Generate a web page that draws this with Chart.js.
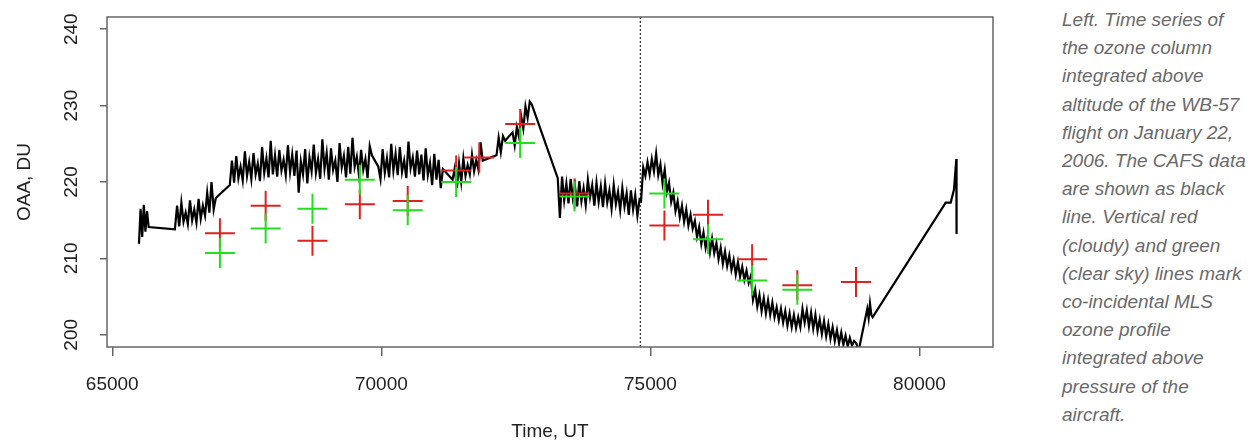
<!DOCTYPE html>
<html>
<head>
<meta charset="utf-8">
<script src="https://cdn.jsdelivr.net/npm/chart.js@4.4.1/dist/chart.umd.min.js"></script>
<style>
  html, body { margin: 0; padding: 0; background: #fff; }
  #wrap { position: absolute; left: 0; top: 0; width: 1010px; height: 441px; }
  #caption {
    position: absolute; left: 1062px; top: 6px; width: 200px;
    font: italic 19px "Liberation Sans", Arial, sans-serif;
    line-height: 28.2px; color: #6a6a6a; white-space: nowrap;
  }
</style>
</head>
<body>
<div id="wrap"><canvas id="chart"></canvas></div>
<div id="caption">Left. Time series of<br>the ozone column<br>integrated above<br>altitude of the WB-57<br>flight on January 22,<br>2006. The CAFS data<br>are shown as black<br>line. Vertical red<br>(cloudy) and green<br>(clear sky) lines mark<br>co-incidental MLS<br>ozone profile<br>integrated above<br>pressure of the<br>aircraft.</div>
<script>
// axis ticks
const xTicks = [65000, 70000, 75000, 80000];
const yTicks = [200, 210, 220, 230, 240];

// MLS coincidences, cloudy (red) and clear sky (green)
const redTimes = [67000, 67850, 68720, 69600, 70490, 71390, 71820, 72580, 73590, 75260, 76070, 76890, 77730, 78820];
const redOzone = [213.3, 216.9, 212.3, 217.1, 217.5, 221.5, 223.2, 227.6, 218.5, 214.3, 215.7, 209.9, 206.5, 206.9];
const greenTimes = [67000, 67850, 68720, 69600, 70490, 71390, 72580, 73590, 75260, 76070, 76890, 77730];
const greenOzone = [210.7, 213.9, 216.5, 220.3, 216.3, 220.0, 225.1, 218.1, 218.5, 212.5, 207.1, 205.9];

// vertical dotted marker
const markTime = 74813;

const runStart = [65496, 66164, 67184, 69944, 71324, 72140, 72438, 73278, 74826, 79030];
const runStep = [30, 40, 40, 40, 40, 40, 40, 40, 40, 25];
const runValues = [
  [211.9, 216.5, 212.8, 217.0, 213.5, 216.2, 214.1],
  [213.8, 216.9, 214.2, 217.3, 214.8, 216.0, 214.5, 217.6, 215.0, 216.4,
   214.7, 217.8, 215.2, 216.9, 215.6, 218.6, 216.0, 220.0, 216.4, 217.9],
  [219.6, 222.8, 219.9, 223.4, 220.5, 222.0, 220.2, 224.0, 220.8, 222.6,
   220.4, 223.8, 221.0, 222.4, 220.1, 224.6, 221.2, 223.1, 220.6, 225.4,
   221.0, 223.5, 220.7, 224.2, 221.5, 222.9, 220.9, 224.8, 221.3, 223.6,
   220.8, 224.1, 218.6, 222.7, 221.0, 224.3, 219.8, 223.2, 221.4, 224.9,
   221.2, 223.0, 220.4, 225.6, 221.7, 223.8, 220.3, 224.4, 221.6, 222.8,
   220.0, 225.1, 221.9, 223.4, 220.6, 224.6, 221.1, 225.8, 222.0, 223.3,
   220.9, 224.2, 221.6, 223.0, 220.5, 224.7, 223.5],
  [222.0, 220.4, 224.3, 221.2, 223.1, 220.6, 225.0, 221.5, 223.7, 220.9,
   224.6, 221.3, 222.8, 220.5, 225.3, 221.8, 223.2, 220.7, 224.1, 221.0,
   223.6, 220.2, 224.4, 220.9, 222.5, 219.6, 223.7, 220.3, 222.9, 219.2, 221.7],
  [220.3, 221.8, 219.2, 222.4, 220.0, 223.1, 220.8, 222.2, 221.0, 223.6,
   221.4, 222.9, 221.6, 225.2, 222.8],
  [223.5, 225.8, 223.9, 226.0, 225.4],
  [226.5, 224.8, 227.2, 225.9, 228.6, 227.0, 229.9, 228.4, 230.5, 230.1],
  [220.5, 215.3, 220.7, 217.6, 219.8, 217.2, 220.4, 217.9, 219.5, 216.8,
   220.1, 217.5, 219.2, 217.0, 220.3, 218.0, 219.6, 216.9, 219.9, 217.4,
   219.4, 216.7, 219.8, 217.3, 218.9, 216.5, 219.6, 217.1, 218.7, 216.3,
   219.2, 216.8, 218.5, 215.7, 218.9, 216.4, 218.3, 215.6, 217.7],
  [217.5, 221.9, 220.8, 222.6, 221.0, 223.0, 221.4, 223.7, 220.9, 222.3,
   219.8, 221.6, 218.7, 219.9, 217.4, 218.6, 216.2, 217.5, 215.4, 216.9,
   214.8, 216.4, 214.3, 215.7, 213.9, 214.9, 212.8, 214.1, 211.9, 213.4,
   211.4, 212.9, 210.8, 212.6, 210.7, 212.0, 209.9, 211.4, 209.3, 210.9,
   209.0, 210.4, 208.5, 209.8, 207.9, 209.5, 207.6, 208.9, 207.2, 208.4,
   206.8, 207.7, 204.6, 205.9, 203.7, 205.2, 203.1, 204.8, 202.8, 204.5,
   202.6, 204.2, 202.3, 203.6, 201.9, 203.4, 201.6, 203.1, 201.2, 202.8,
   201.0, 202.6, 200.9, 202.3, 201.0, 203.4, 201.6, 203.2, 201.1, 202.9,
   200.8, 202.6, 200.5, 202.0, 200.1, 201.8, 199.8, 201.4, 199.5, 201.0,
   199.2, 200.6, 198.9, 200.3, 198.7, 199.9, 198.5, 199.6, 198.6, 199.2,
   198.9, 197.8],
  [203.4, 202.2, 204.1, 202.6, 202.3]
];
const tailTimes = [80487, 80580, 80641, 80684, 80686, 80688, 80690, 80692];
const tailValues = [217.3, 217.3, 219.0, 223.0, 213.2, 220.3, 216.8, 219.2];

const cafs = [];
runValues.forEach((vals, r) => {
  vals.forEach((v, i) => cafs.push({ x: runStart[r] + i * runStep[r], y: v }));
});
tailTimes.forEach((t, i) => cafs.push({ x: t, y: tailValues[i] }));

const toPts = (xs, ys) => xs.map((t, i) => ({ x: t, y: ys[i] }));

const yMin = 198.4, yMax = 241.6;
const FONT = '"Liberation Sans", Arial, sans-serif';
Chart.defaults.font.family = FONT;

// R-style box, rotated y labels and axis titles
const rPlot = {
  id: 'rPlot',
  afterDraw(chart) {
    const { ctx, chartArea: a, scales: { y } } = chart;
    ctx.save();
    ctx.strokeStyle = '#666';
    ctx.lineWidth = 1.5;
    ctx.strokeRect(a.left, a.top, a.right - a.left, a.bottom - a.top);
    ctx.fillStyle = '#222';
    ctx.font = '19px ' + FONT;
    ctx.textAlign = 'center';
    ctx.textBaseline = 'middle';
    yTicks.forEach(v => {
      ctx.save();
      ctx.translate(72, y.getPixelForValue(v));
      ctx.rotate(-Math.PI / 2);
      ctx.fillText(String(v), 0, 0);
      ctx.restore();
    });
    ctx.save();
    ctx.translate(25, (a.top + a.bottom) / 2);
    ctx.rotate(-Math.PI / 2);
    ctx.fillText('OAA, DU', 0, 0);
    ctx.restore();
    ctx.fillText('Time, UT', (a.left + a.right) / 2, 432);
    ctx.restore();
  }
};

new Chart(document.getElementById('chart'), {
  type: 'line',
  data: {
    datasets: [
      {
        label: 'clear sky', data: toPts(greenTimes, greenOzone), showLine: false,
        pointStyle: 'cross', pointRadius: 15, pointBorderWidth: 2,
        borderColor: '#22dd22', backgroundColor: '#22dd22', order: 0
      },
      {
        label: 'cloudy', data: toPts(redTimes, redOzone), showLine: false,
        pointStyle: 'cross', pointRadius: 15, pointBorderWidth: 2,
        borderColor: '#dd2222', backgroundColor: '#dd2222', order: 1
      },
      {
        label: 'CAFS', data: cafs, borderColor: '#000', borderWidth: 2.2,
        pointRadius: 0, tension: 0, order: 2
      },
      {
        label: 'mark', data: [{ x: markTime, y: yMin }, { x: markTime, y: yMax }],
        borderColor: '#333', borderWidth: 1.2, borderDash: [2, 2],
        pointRadius: 0, order: 3
      }
    ]
  },
  options: {
    responsive: true,
    maintainAspectRatio: false,
    animation: false,
    layout: { padding: { top: 11, right: 15.7, left: 0, bottom: 0 } },
    plugins: { legend: { display: false }, tooltip: { enabled: false } },
    scales: {
      x: {
        type: 'linear', min: 64902, max: 81366,
        afterBuildTicks: s => { s.ticks = xTicks.map(v => ({ value: v })); },
        afterFit: s => { s.height = 94; },
        grid: { drawOnChartArea: false, drawTicks: true, tickLength: 9, color: '#666', lineWidth: 1.5 },
        border: { display: false },
        ticks: { color: '#222', font: { size: 19 }, padding: 17, maxRotation: 0, callback: v => String(v) }
      },
      y: {
        type: 'linear', min: yMin, max: yMax,
        afterBuildTicks: s => { s.ticks = yTicks.map(v => ({ value: v })); },
        afterFit: s => { s.width = 107; },
        grid: { drawOnChartArea: false, drawTicks: true, tickLength: 7, color: '#666', lineWidth: 1.5 },
        border: { display: false },
        ticks: { display: false }
      }
    }
  },
  plugins: [rPlot]
});
</script>
</body>
</html>
